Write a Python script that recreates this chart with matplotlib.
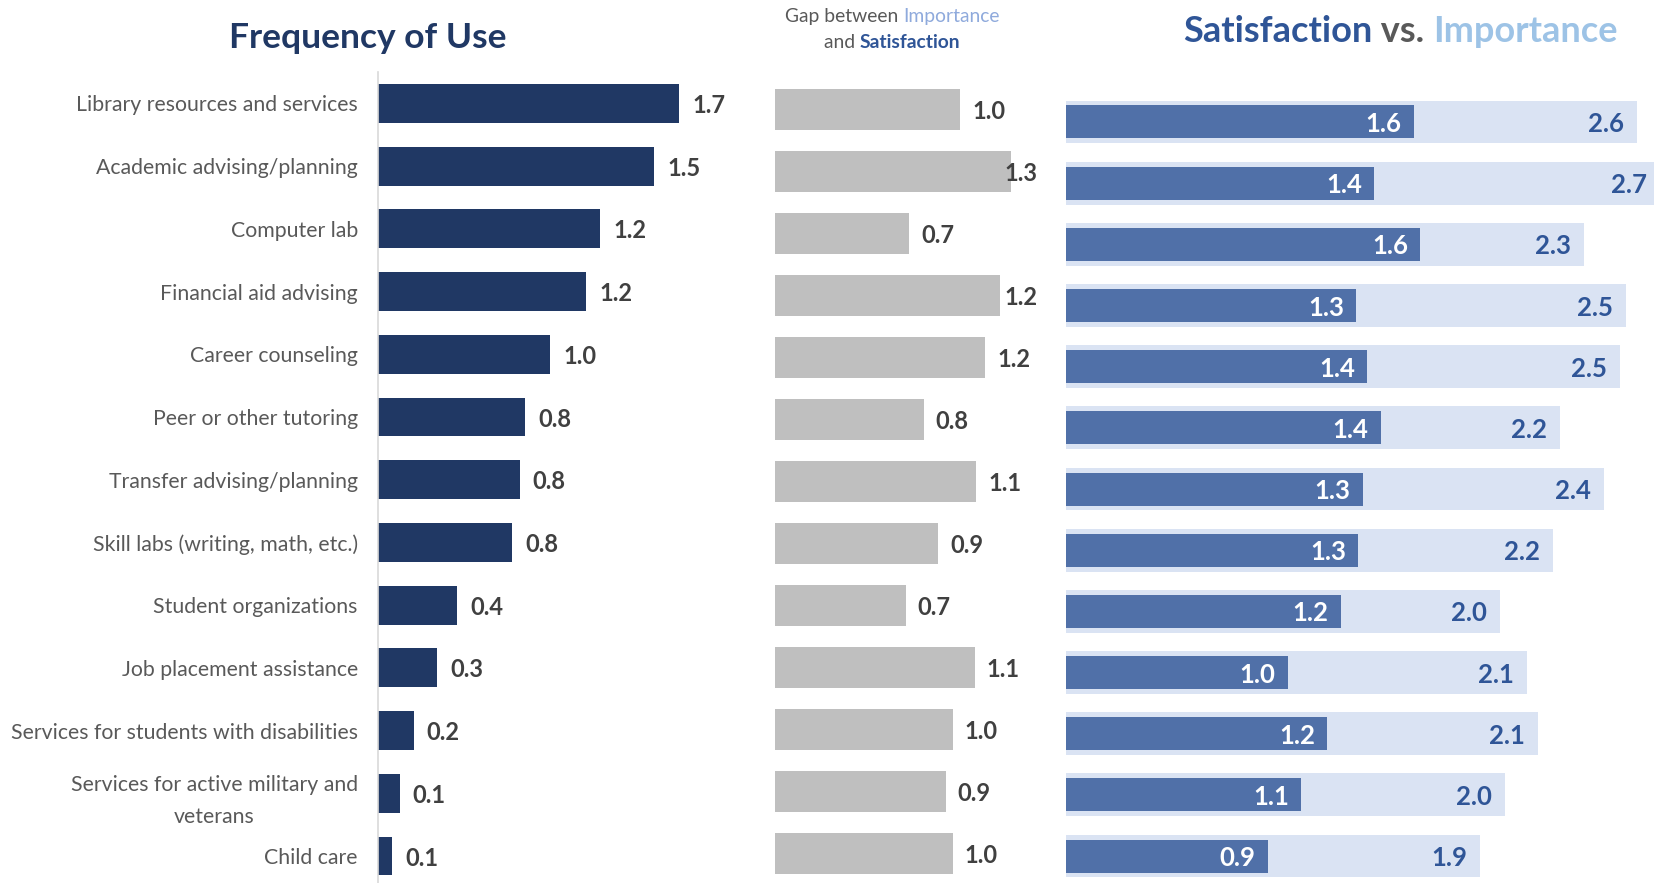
import matplotlib
matplotlib.use("Agg")
import matplotlib.pyplot as plt

plt.rcParams['font.family'] = ['Lato', 'DejaVu Sans']

categories = [
    "Library resources and services",
    "Academic advising/planning",
    "Computer lab",
    "Financial aid advising",
    "Career counseling",
    "Peer or other tutoring",
    "Transfer advising/planning",
    "Skill labs (writing, math, etc.)",
    "Student organizations",
    "Job placement assistance",
    "Services for students with disabilities",
    "Services for active military and\nveterans",
    "Child care",
]
frequency = [1.68, 1.54, 1.24, 1.16, 0.96, 0.82, 0.79, 0.75, 0.44, 0.33, 0.20, 0.12, 0.08]
gap = [1.02, 1.30, 0.74, 1.24, 1.16, 0.82, 1.11, 0.90, 0.72, 1.10, 0.98, 0.94, 0.98]
satisfaction = [1.57, 1.39, 1.60, 1.31, 1.36, 1.42, 1.34, 1.32, 1.24, 1.00, 1.18, 1.06, 0.91]
importance = [2.58, 2.68, 2.34, 2.53, 2.50, 2.23, 2.43, 2.20, 1.96, 2.08, 2.13, 1.98, 1.87]

W, H = 1654, 883
fig = plt.figure(figsize=(W / 100, H / 100), dpi=100)

NAVY = "#203864"
GRAY_BAR = "#BFBFBF"
SAT = "#5070A8"
IMP = "#DAE3F3"
SAT_TXT = "#2F5597"
IMP_TXT = "#9DC3E6"
LABEL = "#595959"
VAL = "#404040"


def px_axes(left, right, top, bottom):
    return fig.add_axes([left / W, 1 - bottom / H, (right - left) / W, (bottom - top) / H])


rows = list(range(len(categories)))

# ---- Panel 1: Frequency of Use ----
ax1 = px_axes(378, 378 + 2.0 * 179.3, 72, 883)
ax1.barh(rows, frequency, height=0.62, color=NAVY)
ax1.set_xlim(0, 2.0)
ax1.set_ylim(12.43, -0.502)
ax1.set_yticks(rows)
ax1.set_yticklabels(categories, fontsize=15.3, color=LABEL, multialignment='center',
                    linespacing=1.7)
ax1.tick_params(axis='y', length=0, pad=14.5)
ax1.set_xticks([])
for s in ['top', 'right', 'bottom']:
    ax1.spines[s].set_visible(False)
ax1.spines['left'].set_color('#D9D9D9')
ax1.spines['left'].set_linewidth(1.2)
for i, v in enumerate(frequency):
    ax1.text(v + 0.0725, i, f"{v:.1f}", va='center_baseline', ha='left', fontsize=17,
             fontweight='bold', color=VAL)

# ---- Panel 2: Gap ----
ax2 = px_axes(775, 1042, 72, 883)
ax2.barh(rows, gap, height=0.66, color=GRAY_BAR)
ax2.set_xlim(0, 267 / 181.4)
ax2.set_ylim(12.48, -0.605)
ax2.axis('off')
for i, v in enumerate(gap):
    ax2.text(min(v + 0.066, 1.265), i, f"{v:.1f}", va='center_baseline', ha='left',
             fontsize=17, fontweight='bold', color=VAL)

# ---- Panel 3: Satisfaction vs Importance ----
ax3 = px_axes(1066, 1654, 72, 883)
ax3.barh(rows, importance, height=0.70, color=IMP)
ax3.barh(rows, satisfaction, height=0.54, color=SAT)
ax3.set_xlim(0, 588 / 221.5)
ax3.set_ylim(12.44, -0.817)
ax3.axis('off')
for i, v in enumerate(importance):
    ax3.annotate(f"{v:.1f}", (v, i), xytext=(-13, 0), textcoords='offset pixels',
                 va='center_baseline', ha='right', fontsize=18.5, fontweight='bold',
                 color=SAT_TXT, annotation_clip=False)
for i, v in enumerate(satisfaction):
    ax3.annotate(f"{v:.1f}", (v, i), xytext=(-12, 0), textcoords='offset pixels',
                 va='center_baseline', ha='right', fontsize=18.5, fontweight='bold',
                 color='white')

# ---- Titles ----
def rich(xc, yc, parts, fontsize):
    texts = []
    for s, color, w in parts:
        t = fig.text(0, 1 - yc / H, s, color=color, fontsize=fontsize, fontweight=w,
                     va='center', ha='left')
        texts.append(t)
    fig.canvas.draw()
    r = fig.canvas.get_renderer()
    widths = [t.get_window_extent(r).width for t in texts]
    x = xc - sum(widths) / 2
    for t, w in zip(texts, widths):
        t.set_x(x / W)
        x += w


fig.text(368 / W, 1 - 38 / H, "Frequency of Use", ha='center', va='center',
         fontsize=25.5, fontweight='bold', color=NAVY)

rich(1400, 31, [("Satisfaction", SAT_TXT, 'bold'), (" vs. ", LABEL, 'bold'),
                ("Importance", IMP_TXT, 'bold')], 26)

rich(892, 16.5, [("Gap between ", LABEL, 'normal'), ("Importance", "#8FAADC", 'normal')], 13.9)
rich(892, 43, [("and ", LABEL, 'normal'), ("Satisfaction", SAT_TXT, 'bold')], 13.9)

fig.savefig("out.png", dpi=100)
